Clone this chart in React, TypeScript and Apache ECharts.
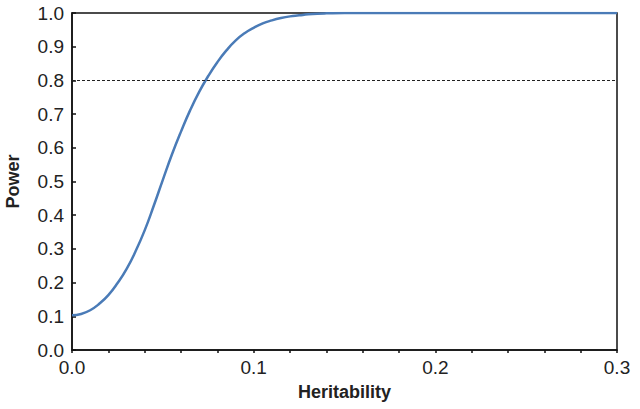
import React, { useEffect, useRef } from "react";
import * as echarts from "echarts";

const heritability = [
  0, 0.005, 0.01, 0.015, 0.02, 0.025, 0.03, 0.035, 0.04, 0.045, 0.05, 0.055,
  0.06, 0.065, 0.07, 0.075, 0.08, 0.085, 0.09, 0.095, 0.1, 0.105, 0.11, 0.115,
  0.12, 0.125, 0.13, 0.135, 0.14, 0.15, 0.16, 0.18, 0.2, 0.22, 0.24, 0.26,
  0.28, 0.3,
];
const power = [
  0.103, 0.107, 0.118, 0.137, 0.163, 0.198, 0.24, 0.293, 0.355, 0.428, 0.505,
  0.58, 0.648, 0.711, 0.766, 0.813, 0.854, 0.889, 0.918, 0.94, 0.956, 0.969,
  0.978, 0.985, 0.99, 0.993, 0.996, 0.998, 0.999, 1.0, 1.0, 1.0, 1.0, 1.0, 1.0,
  1.0, 1.0, 1.0,
];
const thresholdPower = 0.8;
const xLabelValues = [0, 0.1, 0.2, 0.3];

export default function App() {
  const ref = useRef<HTMLDivElement>(null);
  useEffect(() => {
    if (!ref.current) return;
    const chart = echarts.init(ref.current, undefined, { renderer: "svg" });
    const font = "'Liberation Sans', Arial, sans-serif";
    chart.setOption({
      animation: false,
      backgroundColor: "#ffffff",
      grid: {
        left: 72,
        right: 23,
        top: 13,
        bottom: 59,
        containLabel: false,
        outerBoundsMode: "none",
        show: true,
        borderColor: "#111",
        borderWidth: 1.5,
        backgroundColor: "transparent",
      },
      xAxis: {
        type: "value",
        min: 0,
        max: 0.3,
        interval: 0.02,
        name: "Heritability",
        nameLocation: "middle",
        nameGap: 33,
        nameTextStyle: {
          fontFamily: font,
          fontWeight: "bold",
          fontSize: 18,
          color: "#222",
        },
        axisLine: { show: true, lineStyle: { color: "#111", width: 1.5 } },
        axisTick: { show: true, inside: false, length: 3, lineStyle: { color: "#111", width: 1.5 } },
        axisLabel: {
          fontFamily: font,
          fontSize: 19,
          color: "#222",
          margin: 8,
          showMinLabel: true,
          showMaxLabel: true,
          formatter: (v: number) =>
            xLabelValues.some((t) => Math.abs(t - v) < 1e-6) ? v.toFixed(1) : "",
        },
        splitLine: { show: false },
      },
      yAxis: {
        type: "value",
        min: 0,
        max: 1,
        interval: 0.1,
        name: "Power",
        nameLocation: "middle",
        nameRotate: 90,
        nameGap: 50,
        nameTextStyle: {
          fontFamily: font,
          fontWeight: "bold",
          fontSize: 18,
          color: "#222",
        },
        axisLine: { show: true, lineStyle: { color: "#111", width: 1.5 } },
        axisTick: { show: true, inside: true, length: 4, lineStyle: { color: "#111", width: 1.5 } },
        axisLabel: {
          fontFamily: font,
          fontSize: 19,
          color: "#222",
          margin: 8,
          formatter: (v: number) => v.toFixed(1),
        },
        splitLine: { show: false },
      },
      series: [
        {
          type: "line",
          data: heritability.map((h, i) => [h, power[i]]),
          smooth: 0.5,
          showSymbol: false,
          symbol: "none",
          lineStyle: { color: "#4a7bb7", width: 2.5 },
          z: 3,
          markLine: {
            silent: true,
            symbol: "none",
            label: { show: false },
            lineStyle: { color: "#222", type: [3, 2], width: 1 },
            data: [{ yAxis: thresholdPower }],
          },
        },
      ],
    });
    return () => chart.dispose();
  }, []);
  return (
    <div
      ref={ref}
      style={{ position: "fixed", left: 0, top: 0, width: 640, height: 409 }}
    />
  );
}
